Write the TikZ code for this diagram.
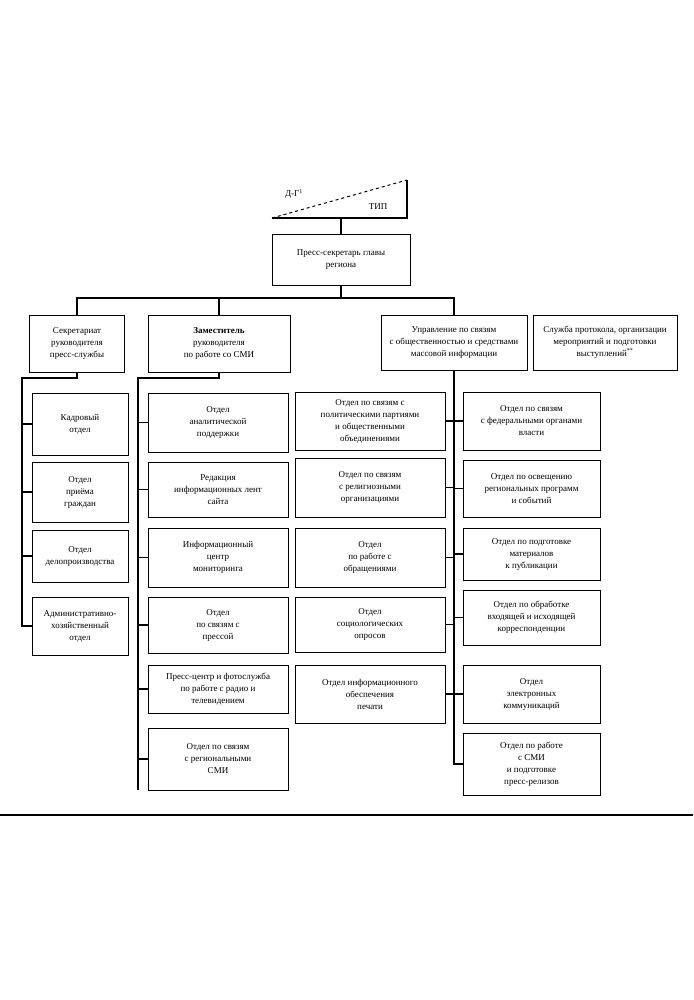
\documentclass[tikz,border=0pt]{standalone}
\usepackage{fontspec}
\setmainfont{Liberation Serif}
\begin{document}
\begin{tikzpicture}[x=1pt,y=-1pt,
  box/.style={draw, line width=1pt, align=center, inner sep=2pt, font=\fontsize{9}{12}\selectfont},
  sz/.style 2 args={minimum width=#1pt, minimum height=#2pt},
  link/.style={line width=1.1pt},
  lbl/.style={font=\fontsize{9}{10}\selectfont, inner sep=1pt}]
\useasboundingbox (0,0) rectangle (693,1000);

% corner triangle
\draw[link] (272,218) -- (407,218) -- (407,180);
\draw[line width=1pt, dashed] (272,218) -- (407,180);
\node[lbl] (trA) at (294,194) {Д-Г\textsuperscript{1}};
\node[lbl] (trB) at (378,207) {ТИП};
\coordinate (trbot) at (341,218);

% top
\node[box, sz={138}{50}] (top) at (341,260) {Пресс-секретарь главы\\региона};
\draw[link] (trbot) -- (top.north);

% level 2
\node[box, sz={95}{57}]  (b1) at (77,343.5) {Секретариат\\руководителя\\пресс-службы};
\node[box, sz={142}{57}] (b2) at (219,343.5) {\textbf{Заместитель}\\руководителя\\по работе со СМИ};
\node[box, sz={146}{55}] (b3) at (454,342.5) {Управление по связям\\с общественностью и средствами\\массовой информации};
\node[box, sz={144}{55}] (b4) at (605,342.5) {Служба протокола, организации\\мероприятий и подготовки\\выступлений\textsuperscript{**}};

\coordinate (bus) at (0,298);
\draw[link] (top.south) -- (top.south |- bus);
\draw[link] (b1.north) -- (b1.north |- bus) -- (b3.north |- bus) -- (b3.north);
\draw[link] (b2.north) -- (b2.north |- bus);

% column 1
\node[box, sz={96}{62}] (c1a) at (80,424) {Кадровый\\отдел};
\node[box, sz={96}{60}] (c1b) at (80,492) {Отдел\\приёма\\граждан};
\node[box, sz={96}{52}] (c1c) at (80,556) {Отдел\\делопроизводства};
\node[box, sz={96}{58}] (c1d) at (80,626) {Административно-\\хозяйственный\\отдел};
\coordinate (s1) at (22,378);
\draw[link] (b1.south) |- (s1) |- (c1d.west);
\foreach \n in {c1a,c1b,c1c} \draw[link] (s1 |- \n.west) -- (\n.west);

% column 2
\node[box, sz={140}{59}] (c2a) at (218,422.5) {Отдел\\аналитической\\поддержки};
\node[box, sz={140}{55}] (c2b) at (218,489.5) {Редакция\\информационных лент\\сайта};
\node[box, sz={140}{59}] (c2c) at (218,557.5) {Информационный\\центр\\мониторинга};
\node[box, sz={140}{56}] (c2d) at (218,625) {Отдел\\по связям с\\прессой};
\node[box, sz={140}{48}] (c2e) at (218,689) {Пресс-центр и фотослужба\\по работе с радио и\\телевидением};
\node[box, sz={140}{62}] (c2f) at (218,759) {Отдел по связям\\с региональными\\СМИ};
\coordinate (s2) at (138,378);
\draw[link] (b2.south) |- (s2) -- (s2 |- 0,790);
\foreach \n in {c2a,c2b,c2c,c2d,c2e,c2f} \draw[link] (s2 |- \n.west) -- (\n.west);

% column 3 left
\node[box, sz={150}{58}] (c3a) at (370,421) {Отдел по связям с\\политическими партиями\\и общественными\\объединениями};
\node[box, sz={150}{59}] (c3b) at (370,487.5) {Отдел по связям\\с религиозными\\организациями};
\node[box, sz={150}{59}] (c3c) at (370,557.5) {Отдел\\по работе с\\обращениями};
\node[box, sz={150}{55}] (c3d) at (370,624.5) {Отдел\\социологических\\опросов};
\node[box, sz={150}{58}] (c3e) at (370,694) {Отдел информационного\\обеспечения\\печати};

% column 3 right
\node[box, sz={137}{58}] (c4a) at (531.5,421) {Отдел по связям\\с федеральными органами\\власти};
\node[box, sz={137}{57}] (c4b) at (531.5,488.5) {Отдел по освещению\\региональных программ\\и событий};
\node[box, sz={137}{52}] (c4c) at (531.5,554) {Отдел по подготовке\\материалов\\к публикации};
\node[box, sz={137}{55}] (c4d) at (531.5,617.5) {Отдел по обработке\\входящей и исходящей\\корреспонденции};
\node[box, sz={137}{58}] (c4e) at (531.5,694) {Отдел\\электронных\\коммуникаций};
\node[box, sz={137}{62}] (c4f) at (531.5,764) {Отдел по работе\\с СМИ\\и подготовке\\пресс-релизов};

\draw[link] (b3.south) |- (c4f.west);
\foreach \n in {c3a,c3b,c3c,c3d,c3e} \draw[link] (b3.south |- \n.east) -- (\n.east);
\foreach \n in {c4a,c4b,c4c,c4d,c4e} \draw[link] (b3.south |- \n.west) -- (\n.west);

% bottom rule
\draw[line width=2.5pt] (0,815) -- (693,815);
\end{tikzpicture}
\end{document}
